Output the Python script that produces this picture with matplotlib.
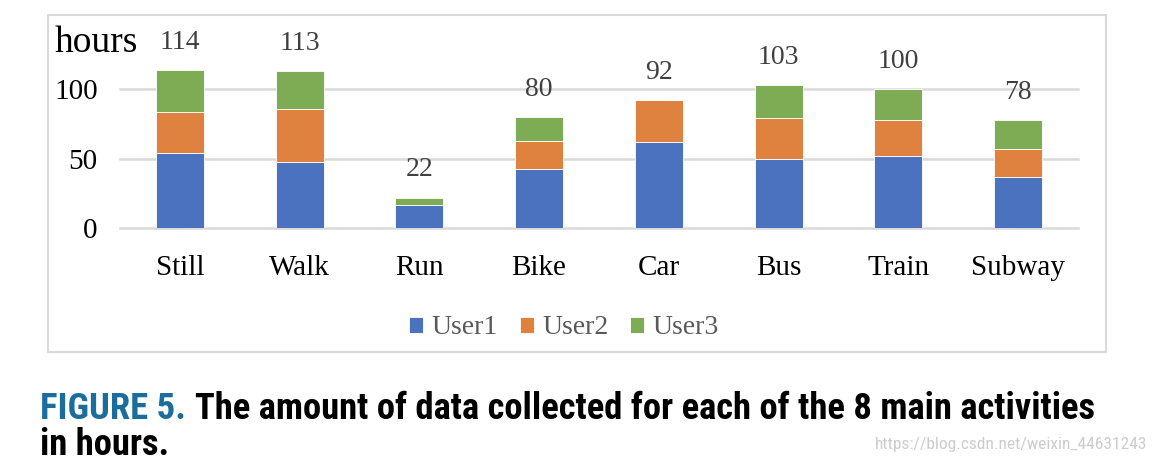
import numpy as np
import matplotlib.pyplot as plt
from matplotlib.patches import Rectangle

# activities and hours per user
activities = ["Still", "Walk", "Run", "Bike", "Car", "Bus", "Train", "Subway"]
user1 = [54, 48, 17, 43, 62, 50, 52, 37]
user2 = [30, 38, 0, 20, 30, 29, 26, 20]
user3 = [30, 27, 5, 17, 0, 24, 22, 21]
totals = [114, 113, 22, 80, 92, 103, 100, 78]
series_names = ["User1", "User2", "User3"]
colors = ["#4a72be", "#e0823f", "#7eac55"]

serif = ["Liberation Serif", "DejaVu Serif"]
narrow = ["Roboto Condensed", "Liberation Sans Narrow", "Roboto", "DejaVu Sans"]

fig = plt.figure(figsize=(11.56, 4.66), dpi=100)

# light grey chart border
fig.patches.append(Rectangle((48 / 1156, 114 / 466), 1058 / 1156, 337 / 466,
                             transform=fig.transFigure, fill=False,
                             edgecolor="#d9d9d9", linewidth=1.5))

ax = fig.add_axes([120 / 1156, 237.7 / 466, 958 / 1156, 208.5 / 466])
x = np.arange(len(activities))
bottom = np.zeros(len(activities))
for name, vals, c in zip(series_names, [user1, user2, user3], colors):
    ax.bar(x, vals, 0.4, bottom=bottom, color=c, label=name,
           edgecolor="white", linewidth=0.6, zorder=3)
    bottom += np.array(vals)

for xi, t in zip(x, totals):
    ax.annotate(str(t), (xi, t), xytext=(0, 20), textcoords="offset points",
                ha="center", va="center", fontsize=20, family=serif,
                color="#404040")

ax.set_xlim(-0.5, len(activities) - 0.5)
ax.set_ylim(0, 150)
ax.set_yticks([0, 50, 100])
ax.set_xticks(x)
ax.set_xticklabels(activities, family=serif, fontsize=21)
for lab in ax.get_yticklabels():
    lab.set_family(serif)
    lab.set_fontsize(21)
ax.tick_params(axis="both", length=0)
ax.tick_params(axis="y", pad=16)
ax.tick_params(axis="x", pad=19)
ax.grid(axis="y", color="#d9d9d9", linewidth=1.8, zorder=0)
for gl in ax.get_ygridlines():
    gl.set_clip_on(False)
for s in ax.spines.values():
    s.set_visible(False)

fig.text(55 / 1156, 1 - 43 / 466, "hours", family=serif, fontsize=27,
         ha="left", va="center")

fig.legend(loc="center", bbox_to_anchor=(564 / 1156, 1 - 328 / 466),
           ncol=3, frameon=False, prop={"family": serif, "size": 20},
           labelcolor="#595959",
           handlelength=0.5, handleheight=0.5, handletextpad=0.3,
           columnspacing=0.8)

# caption
fs = 21
c1 = fig.text(40 / 1156, 1 - 409 / 466, "FIGURE 5.", family=narrow,
              weight="bold", fontsize=fs, color="#1a6d9c", va="center")
c2 = fig.text(200 / 1156, 1 - 409 / 466,
              "The amount of data collected for each of the 8 main activities",
              family=narrow, weight="bold", fontsize=fs,
              color="black", va="center")
c3 = fig.text(40 / 1156, 1 - 445 / 466, "in hours.", family=narrow,
              weight="bold", fontsize=fs, color="black", va="center")
# scale caption so the first line ends where the reference does
r = fig.canvas.get_renderer()
w1 = c1.get_window_extent(r).width
w2 = c2.get_window_extent(r).width
k = (1097 - 40) / (w1 * 1.06 + w2)
for t in (c1, c2, c3):
    t.set_fontsize(fs * k)
w1 = c1.get_window_extent(r).width
c2.set_x((40 + w1 * 1.06) / 1156)

fig.text(1147 / 1156, 1 - 445 / 466, "https://blog.csdn.net/weixin_44631243",
         family=narrow, fontsize=12.5, color="#cccccc",
         ha="right", va="center")

fig.savefig("out.png", dpi=100)
